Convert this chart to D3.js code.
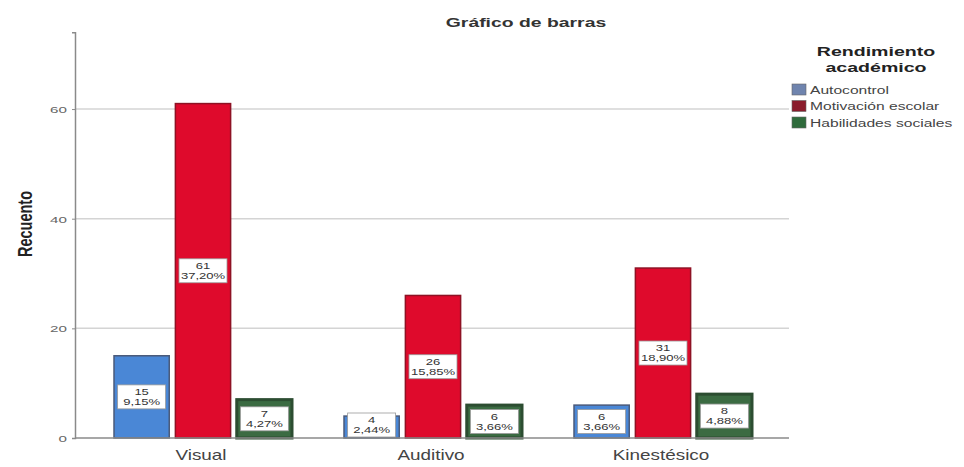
<!DOCTYPE html>
<html><head><meta charset="utf-8">
<script src="https://cdn.jsdelivr.net/npm/d3@7"></script>
<style>body{margin:0;background:#fff}svg{display:block;font-family:"Liberation Sans",Arial,sans-serif}</style>
</head><body><svg id="c" width="964" height="467"></svg>
<script>
const categories = ["Visual", "Auditivo", "Kinestésico"];
const seriesNames = ["Autocontrol", "Motivación escolar", "Habilidades sociales"];
const autocontrol = [15, 4, 6];
const motivacion = [61, 26, 31];
const habilidades = [7, 6, 8];
const percentAuto = ["9,15%", "2,44%", "3,66%"];
const percentMot = ["37,20%", "15,85%", "18,90%"];
const percentHab = ["4,27%", "3,66%", "4,88%"];
const yTicks = [0, 20, 40, 60];

const fills = ["#4a87d6", "#df0a2c", "#3b6b42"];
const strokes = ["#4a5a7a", "#8e1224", "#2c4d31"];
const legendFills = ["#6f84ae", "#8a1c2c", "#2f6b3c"];
const SX = 1.42; // horizontal text stretch seen in the reference

const svg = d3.select("#c");
const x = d3.scaleBand().domain(categories).range([88, 778]).padding(0);
const x1 = d3.scaleBand().domain(seriesNames).range([26, 204]).paddingInner(0.1);
const y = d3.scaleLinear().domain([0, 74]).range([438, 32.3]);

function stretchText(sel, px, py, sx) {
  return sel.attr("transform", `translate(${px},${py}) scale(${sx},1)`);
}

// gridlines
svg.append("g").selectAll("line").data(yTicks.filter(d => d > 0)).join("line")
  .attr("x1", 76).attr("x2", 789).attr("y1", d => y(d)).attr("y2", d => y(d))
  .attr("stroke", "#d4d4d4").attr("stroke-width", 1.5);

// y axis
const yAxis = svg.append("g").attr("transform", "translate(75,0)")
  .call(d3.axisLeft(y).tickValues(yTicks).tickSize(3).tickPadding(6));
yAxis.select(".domain").attr("stroke", "#8a8a8a").attr("stroke-width", 1.5);
yAxis.selectAll(".tick line").attr("stroke", "#8a8a8a");
yAxis.selectAll(".tick text").attr("font-size", 9.5).attr("fill", "#666")
  .attr("x", null).attr("dy", null)
  .attr("transform", "translate(-8,3.5) scale(1.6,1)");

const table = categories.map((c, i) => ({
  cat: c,
  vals: [
    {s: 0, v: autocontrol[i], p: percentAuto[i]},
    {s: 1, v: motivacion[i], p: percentMot[i]},
    {s: 2, v: habilidades[i], p: percentHab[i]}
  ]
}));

const groups = svg.append("g").selectAll("g").data(table).join("g")
  .attr("transform", d => `translate(${x(d.cat)},0)`);

groups.selectAll("rect.bar").data(d => d.vals).join("rect").attr("class", "bar")
  .attr("x", d => x1(seriesNames[d.s]))
  .attr("width", x1.bandwidth())
  .attr("y", d => y(d.v))
  .attr("height", d => y(0) - y(d.v))
  .attr("fill", d => fills[d.s])
  .attr("stroke", d => strokes[d.s])
  .attr("stroke-width", d => d.s === 2 ? 3 : 1.5);

// labels
const lab = groups.selectAll("g.lab").data(d => d.vals).join("g").attr("class", "lab")
  .attr("transform", d => `translate(${x1(seriesNames[d.s]) + x1.bandwidth() / 2},${Math.min((y(d.v) + y(0)) / 2, 425)})`);
lab.append("rect").attr("x", -24).attr("y", -12).attr("width", 48).attr("height", 24)
  .attr("fill", "#fff").attr("stroke", "#999").attr("stroke-width", 0.8);
lab.append("text").attr("text-anchor", "middle").attr("font-size", 9).attr("fill", "#333")
  .attr("transform", "translate(0,-2) scale(1.45,1)").text(d => d.v);
lab.append("text").attr("text-anchor", "middle").attr("font-size", 9).attr("fill", "#333")
  .attr("transform", "translate(0,8) scale(1.45,1)").text(d => d.p);

// x axis
svg.append("line").attr("x1", 75).attr("x2", 789).attr("y1", 438).attr("y2", 438)
  .attr("stroke", "#8a8a8a").attr("stroke-width", 1.5);
svg.append("g").selectAll("text").data(categories).join("text")
  .attr("text-anchor", "middle").attr("font-size", 14).attr("fill", "#444")
  .each(function(d) { stretchText(d3.select(this), x(d) + x.bandwidth() / 2 - 2, 460, 1.35); })
  .text(d => d);

// titles
stretchText(svg.append("text"), 526, 27, 1.55).attr("text-anchor", "middle")
  .attr("font-size", 12.5).attr("font-weight", "bold").attr("fill", "#333").text("Gráfico de barras");
svg.append("text").attr("transform", "translate(32,224) rotate(-90) scale(1,1.4)").attr("text-anchor", "middle")
  .attr("font-size", 14.5).attr("font-weight", "bold").attr("fill", "#222").text("Recuento");

// legend
stretchText(svg.append("text"), 876, 56, 1.45).attr("text-anchor", "middle")
  .attr("font-size", 13.5).attr("font-weight", "bold").attr("fill", "#222").text("Rendimiento");
stretchText(svg.append("text"), 876, 72, 1.45).attr("text-anchor", "middle")
  .attr("font-size", 13.5).attr("font-weight", "bold").attr("fill", "#222").text("académico");
const lg = svg.append("g").selectAll("g").data(seriesNames).join("g")
  .attr("transform", (d, i) => `translate(792,${84 + i * 16.5})`);
lg.append("rect").attr("width", 14).attr("height", 11).attr("fill", (d, i) => legendFills[i])
  .attr("stroke", "#666").attr("stroke-width", 0.6);
lg.append("text").attr("font-size", 11).attr("fill", "#444")
  .attr("transform", `translate(18,9.5) scale(${SX},1)`).text(d => d);
</script></body></html>
